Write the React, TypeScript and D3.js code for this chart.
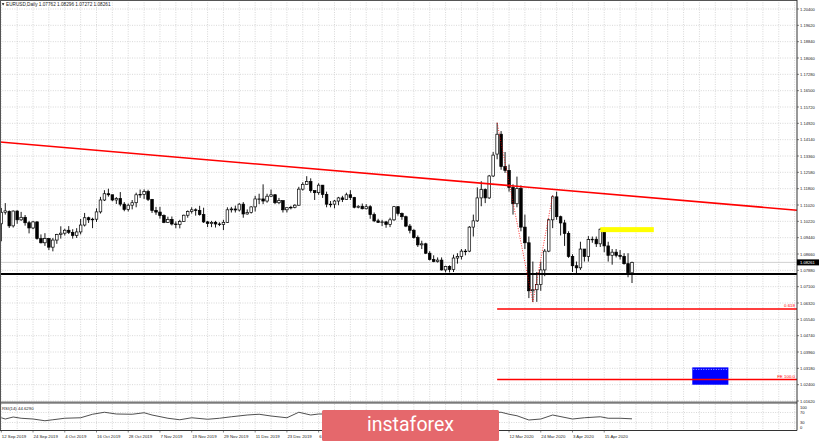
import React from 'react'
import * as d3 from 'd3'

// EURUSD daily bars [open, high, low, close], one array per month
const SEP_2019 = [
  [1.1011, 1.1087, 1.0927, 1.1066], [1.1066, 1.1110, 1.1055, 1.1073], [1.1070, 1.1075, 1.0991, 1.1001],
  [1.1001, 1.1075, 1.0993, 1.1072], [1.1072, 1.1076, 1.1011, 1.1030], [1.1030, 1.1068, 1.1025, 1.1042],
  [1.1042, 1.1053, 1.1002, 1.1016], [1.1016, 1.1025, 1.0965, 1.0991], [1.0991, 1.1025, 1.0985, 1.1020],
  [1.1020, 1.1023, 1.0935, 1.0940], [1.0940, 1.0960, 1.0917, 1.0920], [1.0920, 1.0966, 1.0905, 1.0940],
  [1.0940, 1.0943, 1.0885, 1.0899],
]
const OCT_2019 = [
  [1.0899, 1.0943, 1.0879, 1.0933], [1.0933, 1.0963, 1.0915, 1.0960], [1.0960, 1.0999, 1.0940, 1.0966],
  [1.0966, 1.0987, 1.0955, 1.0980], [1.0980, 1.1000, 1.0962, 1.0970], [1.0970, 1.0985, 1.0940, 1.0955],
  [1.0955, 1.0990, 1.0943, 1.0972], [1.0972, 1.1034, 1.0960, 1.1005], [1.1005, 1.1063, 1.0998, 1.1040],
  [1.1040, 1.1045, 1.1015, 1.1030], [1.1030, 1.1040, 1.0990, 1.1033], [1.1033, 1.1085, 1.1020, 1.1068],
  [1.1068, 1.1140, 1.1060, 1.1125], [1.1125, 1.1172, 1.1120, 1.1155], [1.1155, 1.1179, 1.1141, 1.1150],
  [1.1150, 1.1150, 1.1119, 1.1125], [1.1125, 1.1139, 1.1106, 1.1132], [1.1132, 1.1163, 1.1095, 1.1105],
  [1.1105, 1.1115, 1.1071, 1.1080], [1.1080, 1.1108, 1.1070, 1.1100], [1.1100, 1.1125, 1.1080, 1.1112],
  [1.1112, 1.1160, 1.1090, 1.1150], [1.1150, 1.1175, 1.1135, 1.1152],
]
const NOV_2019 = [
  [1.1152, 1.1176, 1.1130, 1.1165], [1.1165, 1.1174, 1.1120, 1.1128], [1.1128, 1.1130, 1.1063, 1.1075],
  [1.1075, 1.1092, 1.1054, 1.1067], [1.1067, 1.1092, 1.1036, 1.1050], [1.1050, 1.1056, 1.1014, 1.1018],
  [1.1018, 1.1045, 1.1015, 1.1032], [1.1032, 1.1046, 1.1003, 1.1010], [1.1010, 1.1022, 1.0990, 1.1007],
  [1.1007, 1.1030, 1.0989, 1.1022], [1.1022, 1.1055, 1.1020, 1.1052], [1.1052, 1.1075, 1.1040, 1.1070],
  [1.1070, 1.1090, 1.1060, 1.1078], [1.1078, 1.1085, 1.1050, 1.1075], [1.1075, 1.1097, 1.1050, 1.1055],
  [1.1055, 1.1088, 1.1015, 1.1020], [1.1020, 1.1025, 1.0995, 1.1012], [1.1012, 1.1025, 1.0995, 1.1018],
  [1.1018, 1.1025, 1.0993, 1.1010], [1.1010, 1.1018, 1.1000, 1.1008], [1.1008, 1.1030, 1.0981, 1.1018],
]
const DEC_2019 = [
  [1.1018, 1.1090, 1.1015, 1.1078], [1.1078, 1.1092, 1.1065, 1.1082], [1.1082, 1.1098, 1.1065, 1.1077],
  [1.1077, 1.1110, 1.1070, 1.1105], [1.1105, 1.1115, 1.1040, 1.1058], [1.1058, 1.1080, 1.1055, 1.1065],
  [1.1065, 1.1095, 1.1060, 1.1092], [1.1092, 1.1145, 1.1070, 1.1130], [1.1130, 1.1155, 1.1105, 1.1130],
  [1.1130, 1.1200, 1.1105, 1.1120], [1.1120, 1.1155, 1.1112, 1.1143], [1.1143, 1.1175, 1.1140, 1.1150],
  [1.1150, 1.1153, 1.1105, 1.1112], [1.1112, 1.1135, 1.1105, 1.1122], [1.1122, 1.1122, 1.1065, 1.1078],
  [1.1078, 1.1090, 1.1065, 1.1088], [1.1088, 1.1097, 1.1080, 1.1090], [1.1090, 1.1105, 1.1085, 1.1100],
  [1.1100, 1.1188, 1.1098, 1.1177], [1.1177, 1.1210, 1.1170, 1.1200], [1.1200, 1.1239, 1.1200, 1.1213],
]
const JAN_2020 = [
  [1.1213, 1.1229, 1.1160, 1.1170], [1.1170, 1.1170, 1.1125, 1.1160], [1.1160, 1.1205, 1.1150, 1.1196],
  [1.1196, 1.1197, 1.1135, 1.1152], [1.1152, 1.1165, 1.1090, 1.1105], [1.1105, 1.1120, 1.1090, 1.1105],
  [1.1105, 1.1125, 1.1085, 1.1120], [1.1120, 1.1140, 1.1100, 1.1135], [1.1135, 1.1145, 1.1115, 1.1127],
  [1.1127, 1.1160, 1.1125, 1.1150], [1.1150, 1.1172, 1.1125, 1.1137], [1.1137, 1.1140, 1.1085, 1.1090],
  [1.1090, 1.1100, 1.1085, 1.1095], [1.1095, 1.1108, 1.1080, 1.1083], [1.1083, 1.1105, 1.1080, 1.1093],
  [1.1093, 1.1100, 1.1035, 1.1055], [1.1055, 1.1065, 1.1019, 1.1025], [1.1025, 1.1035, 1.1015, 1.1018],
  [1.1018, 1.1030, 1.1000, 1.1020], [1.1020, 1.1025, 1.0992, 1.1008], [1.1008, 1.1040, 1.0995, 1.1030],
  [1.1030, 1.1096, 1.1025, 1.1093],
]
const FEB_2020 = [
  [1.1093, 1.1095, 1.1050, 1.1060], [1.1060, 1.1065, 1.1030, 1.1045], [1.1045, 1.1050, 1.0995, 1.1000],
  [1.1000, 1.1010, 1.0965, 1.0980], [1.0980, 1.0985, 1.0940, 1.0945], [1.0945, 1.0955, 1.0900, 1.0910],
  [1.0910, 1.0930, 1.0890, 1.0915], [1.0915, 1.0920, 1.0866, 1.0870], [1.0870, 1.0880, 1.0835, 1.0840],
  [1.0840, 1.0860, 1.0827, 1.0830], [1.0830, 1.0850, 1.0825, 1.0837], [1.0837, 1.0850, 1.0787, 1.0790],
  [1.0790, 1.0810, 1.0778, 1.0807], [1.0807, 1.0812, 1.0778, 1.0792], [1.0792, 1.0863, 1.0780, 1.0847],
  [1.0847, 1.0870, 1.0820, 1.0855], [1.0855, 1.0890, 1.0840, 1.0880], [1.0880, 1.0890, 1.0860, 1.0880],
  [1.0880, 1.1000, 1.0875, 1.0995], [1.0995, 1.1055, 1.0950, 1.1025],
]
const MAR_2020 = [
  [1.1025, 1.1185, 1.1020, 1.1135], [1.1135, 1.1215, 1.1095, 1.1175], [1.1175, 1.1180, 1.1110, 1.1135],
  [1.1135, 1.1245, 1.1130, 1.1240], [1.1240, 1.1355, 1.1235, 1.1340], [1.1345, 1.1495, 1.1320, 1.1440],
  [1.1440, 1.1455, 1.1270, 1.1285], [1.1285, 1.1355, 1.1255, 1.1267], [1.1267, 1.1295, 1.1165, 1.1185],
  [1.1185, 1.1200, 1.1055, 1.1107], [1.1107, 1.1237, 1.1090, 1.1180], [1.1180, 1.1195, 1.0975, 1.0995],
  [1.0995, 1.1055, 1.0890, 1.0920], [1.0920, 1.0950, 1.0655, 1.0690], [1.0690, 1.0830, 1.0636, 1.0695],
  [1.0695, 1.0780, 1.0637, 1.0720], [1.0720, 1.0830, 1.0690, 1.0790], [1.0790, 1.0890, 1.0760, 1.0880],
  [1.0880, 1.1035, 1.0875, 1.1030], [1.1030, 1.1147, 1.0990, 1.1140], [1.1140, 1.1165, 1.1030, 1.1045],
  [1.1045, 1.1050, 1.0955, 1.1015],
]
const APR_2020 = [
  [1.1015, 1.1030, 1.0905, 1.0965], [1.0965, 1.0975, 1.0848, 1.0855], [1.0855, 1.0865, 1.0780, 1.0810],
  [1.0810, 1.0830, 1.0770, 1.0800], [1.0800, 1.0925, 1.0790, 1.0890], [1.0890, 1.0890, 1.0830, 1.0855],
  [1.0855, 1.0952, 1.0830, 1.0935], [1.0935, 1.0950, 1.0920, 1.0937], [1.0937, 1.0950, 1.0900, 1.0915],
  [1.0915, 1.0990, 1.0900, 1.0985], [1.0985, 1.0990, 1.0875, 1.0905], [1.0905, 1.0925, 1.0830, 1.0860],
  [1.0860, 1.0890, 1.0815, 1.0875], [1.0875, 1.0890, 1.0850, 1.0860], [1.0860, 1.0885, 1.0840, 1.0855],
  [1.0855, 1.0870, 1.0815, 1.0820], [1.0820, 1.0870, 1.0755, 1.0776], [1.07762, 1.08296, 1.07272, 1.08261],
]
const BARS = [...SEP_2019, ...OCT_2019, ...NOV_2019, ...DEC_2019, ...JAN_2020, ...FEB_2020, ...MAR_2020, ...APR_2020]

// date labels under the chart: [bar index, text] (the ones under the watermark are not visible)
const DATE_LABELS: [number, string][] = [
  [0, '12 Sep 2019'], [8, '24 Sep 2019'], [16, '4 Oct 2019'], [24, '16 Oct 2019'], [32, '28 Oct 2019'],
  [40, '7 Nov 2019'], [48, '19 Nov 2019'], [56, '29 Nov 2019'], [64, '11 Dec 2019'], [72, '23 Dec 2019'],
  [80, '6 Jan 2020'], [128, '12 Mar 2020'], [136, '24 Mar 2020'], [144, '3 Apr 2020'], [152, '15 Apr 2020'],
]

const PRICE_LABELS = [
  '1.20400', '1.19620', '1.18840', '1.18060', '1.17280', '1.16500', '1.15720', '1.14920', '1.14140',
  '1.13360', '1.12580', '1.11800', '1.11020', '1.10220', '1.09440', '1.08660', '1.07880', '1.07100',
  '1.06320', '1.05540', '1.04740', '1.03960', '1.03180', '1.02400', '1.01620',
]

// RSI(14): [bar index, value]
const RSI_POINTS: [number, number][] = [
  [0, 49], [1, 44], [3, 52], [5, 47], [8, 44], [11, 37], [13, 41], [16, 47], [20, 49], [23, 63],
  [26, 71], [29, 64], [33, 63], [36, 69], [38, 60], [42, 47], [45, 41], [48, 49], [52, 43], [55, 47],
  [58, 53], [62, 60], [65, 63], [68, 56], [72, 49], [75, 71], [78, 60], [80, 64], [126, 71], [128, 63],
  [130, 57], [133, 40], [136, 44], [139, 60], [144, 44], [147, 49], [151, 53], [153, 47], [156, 47], [159, 44.629],
]
const RSI_LEVELS = [100, 70, 30, 0]

// drawn objects, in bar index / price terms
const TREND = [[0, 1.1402], [200, 1.1077]]
const SUPPORT = 1.0771
const FE_POINTS = [[125, 1.1495], [134, 1.0636], [139, 1.1147]]
const FE_LEVELS: [string, number][] = [['0.618', 1.0603], ['FE 100.0', 1.0265]]
const YELLOW_BOX = [151, 164.5, 1.0995, 1.0971]
const BLUE_BOX = [174.2, 183.3, 1.0323, 1.0240]

const FONT = "'Liberation Sans', Arial, sans-serif"

export default function App() {
  const right = 797
  const x = d3.scaleLinear().domain([0, BARS.length - 1]).range([1.3, 632])
  const y = d3.scaleLinear().domain([1.0162, 1.204]).range([401, 9])
  const tickY = d3.scalePoint<string>().domain(PRICE_LABELS).range([9, 401])
  const yr = d3.scaleLinear().domain([0, 100]).range([430, 405])

  const last = BARS[BARS.length - 1]
  const header = `EURUSD,Daily ${last.map(v => v.toFixed(5)).join(' ')}`

  const gridBars = d3.range(0, 204, 4).filter(i => x(i) < right)

  const slope = (TREND[1][1] - TREND[0][1]) / (TREND[1][0] - TREND[0][0])
  const trendAt = (px: number) => TREND[0][1] + slope * (x.invert(px) - TREND[0][0])

  const rsiLine = d3.line<[number, number]>().x(d => x(d[0])).y(d => yr(d[1]))

  return (
    <svg width={820} height={441} style={{ position: 'absolute', left: 0, top: 0, background: '#fff' }}>
      <defs>
        <clipPath id="main"><rect x={0} y={0} width={right} height={401} /></clipPath>
        <clipPath id="sub"><rect x={0} y={404} width={right} height={26} /></clipPath>
      </defs>
      <rect x={0} y={0} width={820} height={441} fill="#fff" />

      {/* grid */}
      <g stroke="#bdbdbd" strokeWidth={0.6} strokeDasharray="1,1.4">
        {gridBars.map(i => (
          <g key={i}>
            <line x1={x(i)} x2={x(i)} y1={0} y2={401} />
            <line x1={x(i)} x2={x(i)} y1={404} y2={430} />
          </g>
        ))}
        {PRICE_LABELS.map(p => (
          <line key={p} x1={0} x2={right} y1={tickY(p)} y2={tickY(p)} />
        ))}
        {[70, 30].map(v => <line key={v} x1={0} x2={right} y1={yr(v)} y2={yr(v)} />)}
      </g>

      {/* bid line */}
      <line x1={0} x2={right} y1={y(last[3])} y2={y(last[3])} stroke="#c4c4c4" strokeWidth={0.8} />

      <g clipPath="url(#main)">
        {/* candles */}
        {BARS.map(([o, h, l, c], i) => {
          const cx = x(i)
          const top = y(Math.max(o, c))
          const bot = y(Math.min(o, c))
          return (
            <g key={i}>
              <line x1={cx} x2={cx} y1={y(h)} y2={y(l)} stroke="#000" strokeWidth={0.9} />
              <rect x={cx - 1.3} width={2.6} y={top} height={Math.max(bot - top, 0.6)}
                fill={c >= o ? '#fff' : '#000'} stroke="#000" strokeWidth={0.7} />
            </g>
          )
        })}

        {/* rectangles */}
        <rect x={x(YELLOW_BOX[0])} width={x(YELLOW_BOX[1]) - x(YELLOW_BOX[0])}
          y={y(YELLOW_BOX[2])} height={y(YELLOW_BOX[3]) - y(YELLOW_BOX[2])} fill="#ffff00" />
        <rect x={x(BLUE_BOX[0])} width={x(BLUE_BOX[1]) - x(BLUE_BOX[0])}
          y={y(BLUE_BOX[2])} height={y(BLUE_BOX[3]) - y(BLUE_BOX[2])} fill="#0000ff" />
        <line x1={x(BLUE_BOX[0]) + 1} x2={x(BLUE_BOX[1]) - 1} y1={y(BLUE_BOX[2]) + 2} y2={y(BLUE_BOX[2]) + 2}
          stroke="#ffffff" strokeWidth={0.7} strokeDasharray="1,1.5" />

        {/* support */}
        <line x1={0} x2={right} y1={y(SUPPORT)} y2={y(SUPPORT)} stroke="#000" strokeWidth={2} />

        {/* trend line */}
        <line x1={0} x2={right} y1={y(trendAt(0))} y2={y(trendAt(right))} stroke="#ff0000" strokeWidth={1.6} />

        {/* fibo expansion */}
        <polyline points={FE_POINTS.map(([i, p]) => `${x(i)},${y(p)}`).join(' ')}
          fill="none" stroke="#ff0000" strokeWidth={0.8} strokeDasharray="1,1.5" />
        {FE_LEVELS.map(([label, p]) => (
          <g key={label}>
            <line x1={x(FE_POINTS[0][0])} x2={right} y1={y(p)} y2={y(p)} stroke="#ff0000" strokeWidth={1.4} />
            <text x={right - 2} y={y(p) - 1.8} textAnchor="end" fontFamily={FONT} fontSize={4.4} fill="#ff0000">{label}</text>
          </g>
        ))}
      </g>

      {/* RSI */}
      <g clipPath="url(#sub)">
        <path d={rsiLine(RSI_POINTS) || ''} fill="none" stroke="#3c3c3c" strokeWidth={0.9} />
      </g>
      <text x={2} y={409.6} fontFamily={FONT} fontSize={4.3} fill="#222">RSI(14) 44.6290</text>

      {/* frames */}
      <rect x={0} y={401.5} width={right} height={2.2} fill="#7a7a7a" />
      <line x1={0.5} x2={0.5} y1={0} y2={430} stroke="#555" strokeWidth={1} />
      <line x1={0} x2={right} y1={0.5} y2={0.5} stroke="#555" strokeWidth={1} />
      <line x1={right} x2={right} y1={0} y2={430.5} stroke="#333" strokeWidth={1} />
      <line x1={0} x2={right} y1={430.5} y2={430.5} stroke="#333" strokeWidth={1} />

      {/* price axis */}
      {PRICE_LABELS.map(p => (
        <g key={p}>
          <line x1={right} x2={right + 2} y1={tickY(p)} y2={tickY(p)} stroke="#333" strokeWidth={0.6} />
          <text x={800} y={(tickY(p) || 0) + 1.5} fontFamily={FONT} fontSize={4.1} fill="#222">{p}</text>
        </g>
      ))}
      <rect x={right} y={y(last[3]) - 3} width={22} height={6} fill="#000" />
      <text x={800} y={y(last[3]) + 1.5} fontFamily={FONT} fontSize={4.1} fill="#fff">{last[3].toFixed(5)}</text>

      {RSI_LEVELS.map(v => (
        <text key={v} x={800} y={Math.min(Math.max(yr(v) + 1.5, 408.5), 429)} fontFamily={FONT} fontSize={4.1} fill="#222">{v}</text>
      ))}

      {/* time axis */}
      {DATE_LABELS.map(([i, t]) => (
        <g key={t}>
          <line x1={x(i)} x2={x(i)} y1={430.5} y2={432.5} stroke="#333" strokeWidth={0.6} />
          <text x={x(i) + 0.5} y={437.5} fontFamily={FONT} fontSize={4.3} fill="#222">{t}</text>
        </g>
      ))}

      {/* header */}
      <polygon points="1.8,3.3 4.4,3.3 3.1,5.6" fill="#000" />
      <text x={6} y={6.3} fontFamily={FONT} fontSize={4.7} fill="#222">{header}</text>

      {/* watermark */}
      <rect x={322} y={410} width={177} height={31} rx={1.5} fill="#e5686c" />
      <text x={410.5} y={431} textAnchor="middle" fontFamily="Roboto, 'Open Sans', sans-serif"
        fontSize={19.5} fill="#ffffff">instaforex</text>
    </svg>
  )
}
